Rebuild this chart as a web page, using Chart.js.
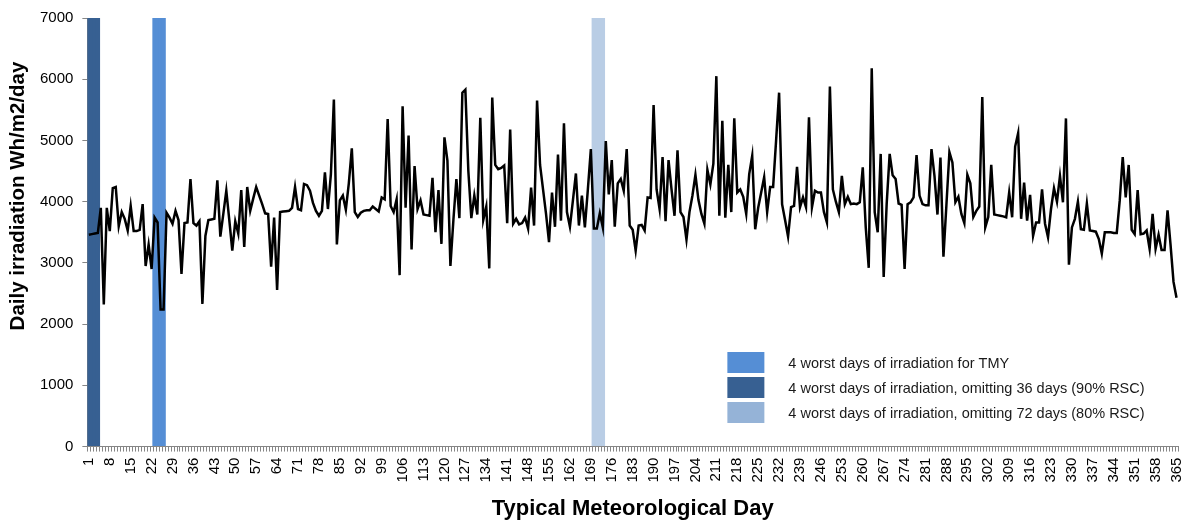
<!DOCTYPE html>
<html>
<head>
<meta charset="utf-8">
<title>Daily irradiation - Typical Meteorological Day</title>
<script src="https://cdn.jsdelivr.net/npm/chart.js@4.4.1/dist/chart.umd.min.js"></script>
<style>
    html, body { margin: 0; padding: 0; background: #ffffff; }
    #wrap { position: relative; width: 1188px; height: 524px; }
</style>
</head>
<body>
<div id="wrap"><canvas id="irradiationChart"></canvas></div>
<script>
'use strict'

// categories: typical meteorological day 1..365
var days = [];
for (var d = 1; d <= 365; d++) {
    days.push(String(d));
}

// daily irradiation, Wh/m2/day
var irradiation = [
    3460, 3470, 3480, 3490, 3900, 2320, 3900, 3520, 4220, 4240,
    3600, 3830, 3720, 3530, 3930, 3520, 3520, 3540, 3960, 2950,
    3300, 2900, 3740, 3660, 2240, 2240, 3820, 3740, 3640, 3850,
    3700, 2820, 3650, 3660, 4370, 3650, 3610, 3680, 2330, 3440,
    3700, 3710, 3720, 4350, 3430, 3800, 4180, 3700, 3200, 3680,
    3480, 4190, 3260, 4240, 3850, 4050, 4240, 4100, 3960, 3810,
    3800, 2940, 3740, 2560, 3830, 3840, 3845, 3850, 3900, 4240,
    3880, 3860, 4290, 4270, 4180, 3980, 3850, 3770, 3850, 4480,
    3880, 4450, 5670, 3300, 4020, 4100, 3870, 4300, 4870, 3830,
    3750, 3820, 3850, 3860, 3860, 3920, 3880, 3840, 4070, 4040,
    5350, 3930, 3830, 4040, 2800, 5560, 3900, 5080, 3220, 4580,
    3880, 4020, 3790, 3780, 3770, 4390, 3500, 4190, 3310, 5050,
    4670, 2950, 3700, 4370, 3730, 5780, 5830, 4500, 3730, 4100,
    3790, 5370, 3700, 3920, 2910, 5700, 4600, 4530, 4550, 4590,
    3650, 5180, 3640, 3720, 3630, 3650, 3740, 3560, 4230, 3610,
    5650, 4600, 4200, 3800, 3340, 4150, 3590, 4770, 3690, 5280,
    3830, 3590, 4020, 4460, 3610, 4100, 3580, 4200, 4860, 3560,
    3560, 3810, 3580, 4990, 4120, 4680, 3590, 4300, 4370, 4180,
    4860, 3610, 3540, 3200, 3610, 3620, 3530, 4070, 4060, 5580,
    4200, 3880, 4730, 3680, 4680, 4200, 3770, 4840, 3830, 3750,
    3380, 3830, 4100, 4440, 4030, 3800, 3640, 4520, 4280, 4620,
    6050, 3770, 5320, 3740, 4600, 3830, 5360, 4150, 4200, 4080,
    3800, 4450, 4750, 3550, 3900, 4150, 4400, 3830, 4240, 4240,
    5000, 5780, 3960, 3700, 3430, 3910, 3930, 4570, 3910, 4070,
    3910, 5380, 3910, 4180, 4150, 4150, 3830, 3660, 5880, 4200,
    4000, 3830, 4420, 3960, 4080, 3960, 3970, 3960, 3990, 4560,
    3580, 2920, 6180, 3830, 3500, 4780, 2770, 3960, 4780, 4430,
    4370, 3970, 3950, 2900, 3960, 3990, 4070, 4760, 4100, 3960,
    3940, 3940, 4860, 4420, 3790, 4720, 3100, 3950, 4810, 4640,
    3990, 4080, 3800, 3650, 4440, 4300, 3750, 3850, 3920, 5710,
    3580, 3750, 4600, 3790, 3780, 3770, 3760, 3745, 4150, 3745,
    4900, 5120, 3720, 4310, 3690, 4110, 3440, 3660, 3660, 4200,
    3640, 3420, 3880, 4220, 4000, 4420, 3990, 5360, 2970, 3580,
    3720, 4000, 3550, 3540, 3970, 3530, 3520, 3510, 3390, 3150,
    3500, 3500, 3500, 3490, 3490, 4020, 4730, 4070, 4600, 3540,
    3470, 4190, 3470, 3480, 3530, 3230, 3800, 3230, 3460, 3210,
    3210, 3860, 3300, 2690, 2430
];

// the three sets of worst days that are shaded
var tmyDays = [23, 24, 25, 26];
var rsc90Days = [1, 2, 3, 4];
var rsc80Days = [170, 171, 172, 173];

var yTicks = [0, 1000, 2000, 3000, 4000, 5000, 6000, 7000];
var xLabelEvery = 7;

var yTitle = 'Daily irradiation Wh/m2/day';
var xTitle = 'Typical Meteorological Day';
var legendTexts = [
    '4 worst days of irradiation for TMY',
    '4 worst days of irradiation, omitting 36 days (90% RSC)',
    '4 worst days of irradiation, omitting 72 days (80% RSC)'
];

var FONT = "'Liberation Sans', Arial, sans-serif";
Chart.defaults.font.family = FONT;
Chart.defaults.color = '#000000';

function shade(dayList) {
    return days.map(function (lab) {
        return dayList.indexOf(Number(lab)) >= 0 ? yTicks[yTicks.length - 1] : null;
    });
}

function shadeSet(label, dayList, colour) {
    return {
        type: 'bar',
        label: label,
        data: shade(dayList),
        backgroundColor: colour,
        borderWidth: 0,
        barPercentage: 1.5,
        categoryPercentage: 1,
        grouped: false,
        order: 2
    };
}

/* legend drawn inside the plot, lower right; y title sits a bit above centre like the original */
var swatchColours = ['#558ED5', '#376092', '#95B3D7'];
var insideLegend = {
    id: 'insideLegend',
    afterDatasetsDraw: function (chart) {
        var ctx = chart.ctx;
        var area = chart.chartArea;
        var x0 = area.left + 640;
        var y0 = area.top + 334;
        ctx.save();
        ctx.font = '14.5px ' + FONT;
        ctx.textBaseline = 'middle';
        legendTexts.forEach(function (txt, i) {
            var y = y0 + i * 25;
            ctx.fillStyle = swatchColours[i];
            ctx.fillRect(x0, y, 37, 21);
            ctx.fillStyle = '#1a1a1a';
            ctx.fillText(txt, x0 + 61, y + 12);
        });
        ctx.restore();
    },
    afterDraw: function (chart) {
        var ctx = chart.ctx;
        var area = chart.chartArea;
        ctx.save();
        ctx.translate(18, area.top + 178);
        ctx.rotate(-Math.PI / 2);
        ctx.font = 'bold 20.5px ' + FONT;
        ctx.fillStyle = '#000000';
        ctx.textAlign = 'center';
        ctx.textBaseline = 'middle';
        ctx.fillText(yTitle, 0, 0);
        ctx.restore();
    }
};

var ctx = document.getElementById('irradiationChart').getContext('2d');
var irradiationChart = new Chart(ctx, {
    type: 'line',
    data: {
        labels: days,
        datasets: [{
            type: 'line',
            label: 'Daily irradiation',
            data: irradiation,
            borderColor: '#000000',
            borderWidth: 2.5,
            pointRadius: 0,
            tension: 0,
            fill: false,
            order: 1
        },
        shadeSet(legendTexts[0], tmyDays, '#558ED5'),
        shadeSet(legendTexts[1], rsc90Days, '#376092'),
        shadeSet(legendTexts[2], rsc80Days, '#B9CDE5')]
    },
    options: {
        responsive: true,
        maintainAspectRatio: false,
        animation: false,
        layout: {
            padding: { left: 31, right: 10, top: 7, bottom: 2 }
        },
        plugins: {
            legend: { display: false },
            tooltip: { enabled: false }
        },
        scales: {
            x: {
                offset: true,
                afterFit: function (scale) {
                    scale.paddingRight = 0;
                },
                grid: {
                    display: true,
                    drawOnChartArea: false,
                    offset: true,
                    tickLength: 5,
                    color: '#868686'
                },
                border: { color: '#868686', width: 1 },
                ticks: {
                    autoSkip: false,
                    maxRotation: 90,
                    minRotation: 90,
                    padding: 6,
                    font: { size: 15 },
                    callback: function (value, index) {
                        return index % xLabelEvery === 0 ? this.getLabelForValue(value) : '';
                    }
                },
                title: {
                    display: true,
                    text: xTitle,
                    font: { size: 22, weight: 'bold' },
                    padding: { top: 7, bottom: 0 }
                }
            },
            y: {
                min: yTicks[0],
                max: yTicks[yTicks.length - 1],
                grid: {
                    display: true,
                    drawOnChartArea: false,
                    tickLength: 5,
                    color: '#868686'
                },
                border: { color: '#868686', width: 1 },
                ticks: {
                    stepSize: 1000,
                    padding: 9,
                    font: { size: 15 },
                    callback: function (value) {
                        return String(value);
                    }
                },
                title: { display: false }
            }
        }
    },
    plugins: [insideLegend]
});
</script>
</body>
</html>
